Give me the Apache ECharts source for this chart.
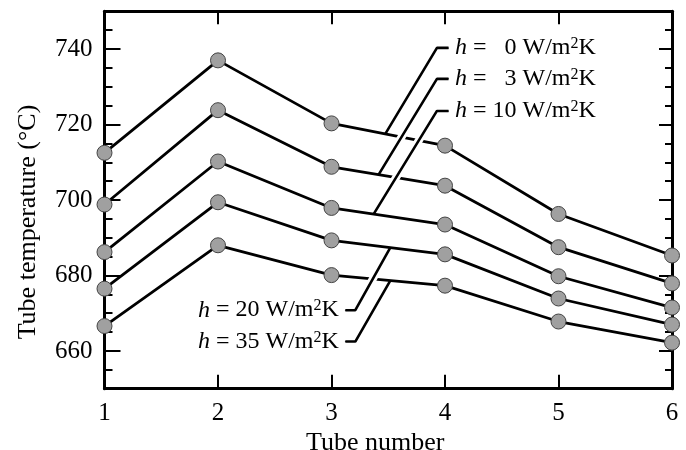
<!DOCTYPE html>
<html>
<head>
<meta charset="utf-8">
<script src="https://cdn.jsdelivr.net/npm/echarts@6/dist/echarts.min.js"></script>
<style>
html, body { margin: 0; padding: 0; background: #fff; }
#chart { width: 686px; height: 450px; }
</style>
</head>
<body>
<div id="chart"></div>
<script>
var tubes = [1, 2, 3, 4, 5, 6];
var h0 = [712.5, 737, 720.3, 714.4, 696.3, 685.3];
var h3 = [698.8, 723.8, 708.8, 703.8, 687.5, 677.9];
var h10 = [686.2, 710.2, 697.9, 693.5, 679.8, 671.5];
var h20 = [676.5, 699.4, 689.3, 685.6, 673.9, 667];
var h35 = [666.6, 688, 680.1, 677.3, 667.8, 662.2];
var hValues = ['0', '3', '10', '20', '35'];
var yLabels = [660, 680, 700, 720, 740];

// leader lines: x where it touches the curve, elbow, end of the short flat piece
var leaderHit = [3.474, 3.415, 3.371, 3.518, 3.518];
var leaderElbow = [[3.929, 740.3], [3.929, 732.1], [3.929, 723.6], [3.21, 670.8], [3.21, 662.5]];
var leaderEnd = [4.031, 4.031, 4.031, 3.122, 3.122];

var curves = [h0, h3, h10, h20, h35];
var font = "'Liberation Serif', 'DejaVu Serif', serif";

function valueAt(arr, x) {
    var i = Math.floor(x) - 1;
    var f = x - Math.floor(x);
    return arr[i] + (arr[i + 1] - arr[i]) * f;
}

function labelText(v) {
    var pad = v.length < 2 ? '  ' : '';
    return '{i|h}{t| = ' + pad + v + ' W/m}{s|2}{t|K}';
}

var series = [];

curves.forEach(function (arr, k) {
    series.push({
        name: 'h' + hValues[k],
        type: 'line',
        data: tubes.map(function (t, i) { return [t, arr[i]]; }),
        symbol: 'circle',
        symbolSize: 15,
        clip: false,
        z: 2,
        lineStyle: { color: '#000', width: 2.8 },
        itemStyle: { color: '#a0a0a0', borderColor: '#444', borderWidth: 1 },
        emphasis: { disabled: true }
    });
});

// white halo under leaders so they cut the curves they cross
curves.forEach(function (arr, k) {
    var hit = [leaderHit[k], valueAt(arr, leaderHit[k])];
    var el = leaderElbow[k];
    var t = 0.12;
    var start = [hit[0] + (el[0] - hit[0]) * t, hit[1] + (el[1] - hit[1]) * t];
    series.push({
        type: 'line',
        data: [start, el, [leaderEnd[k], el[1]]],
        symbol: 'none',
        clip: false,
        z: 3,
        lineStyle: { color: '#fff', width: 8 },
        emphasis: { disabled: true },
        silent: true
    });
});

curves.forEach(function (arr, k) {
    var hit = [leaderHit[k], valueAt(arr, leaderHit[k])];
    var el = leaderElbow[k];
    var right = k < 3;
    series.push({
        type: 'line',
        data: [hit, el, {
            value: [leaderEnd[k], el[1]],
            label: {
                show: true,
                position: right ? 'right' : 'left',
                distance: 6,
                formatter: labelText(hValues[k]),
                rich: {
                    i: { fontFamily: font, fontStyle: 'italic', fontSize: 24, color: '#000' },
                    t: { fontFamily: font, fontSize: 24, color: '#000' },
                    s: { fontFamily: font, fontSize: 16, color: '#000', verticalAlign: 'top' }
                }
            }
        }],
        symbol: 'circle',
        symbolSize: 1,
        clip: false,
        z: 4,
        itemStyle: { color: '#000' },
        lineStyle: { color: '#000', width: 2.6 },
        emphasis: { disabled: true },
        silent: true
    });
});

var frameLine = { show: true, lineStyle: { color: '#000', width: 3 } };
var tickStyle = { color: '#000', width: 2 };

var option = {
    animation: false,
    backgroundColor: '#fff',
    grid: { left: 104.5, right: 14, top: 11.3, bottom: 61.3, containLabel: false, outerBoundsMode: 'none' },
    xAxis: [{
        type: 'value',
        position: 'bottom',
        min: 1, max: 6, interval: 1,
        axisLine: frameLine,
        axisTick: { inside: true, length: 14, lineStyle: tickStyle },
        axisLabel: { fontFamily: font, fontSize: 25, color: '#000', margin: 12 },
        splitLine: { show: false },
        name: 'Tube number',
        nameLocation: 'middle',
        nameGap: 21,
        nameTextStyle: { fontFamily: font, fontSize: 26, color: '#000', padding: [0, 26, 0, 0] }
    }, {
        type: 'value',
        position: 'top',
        min: 1, max: 6, interval: 1,
        axisLine: frameLine,
        axisTick: { inside: true, length: 13, lineStyle: tickStyle },
        axisLabel: { show: false },
        splitLine: { show: false }
    }],
    yAxis: [{
        type: 'value',
        position: 'left',
        min: 650, max: 750, interval: 5,
        axisLine: frameLine,
        axisTick: { inside: true, length: 8, lineStyle: tickStyle },
        axisLabel: { fontFamily: font, fontSize: 25, color: '#000', margin: 12, customValues: yLabels },
        splitLine: { show: false },
        name: 'Tube temperature (\u00b0C)',
        nameLocation: 'middle',
        nameGap: 63,
        nameTextStyle: { fontFamily: font, fontSize: 26, color: '#000', padding: [0, 44, 0, 0] }
    }, {
        type: 'value',
        position: 'left',
        min: 650, max: 750, interval: 5,
        axisLine: { show: false },
        axisTick: { inside: true, length: 16, lineStyle: tickStyle, customValues: yLabels },
        axisLabel: { show: false },
        splitLine: { show: false }
    }, {
        type: 'value',
        position: 'right',
        min: 650, max: 750, interval: 5,
        axisLine: frameLine,
        axisTick: { inside: true, length: 7, lineStyle: tickStyle },
        axisLabel: { show: false },
        splitLine: { show: false }
    }, {
        type: 'value',
        position: 'right',
        min: 650, max: 750, interval: 5,
        axisLine: { show: false },
        axisTick: { inside: true, length: 13, lineStyle: tickStyle, customValues: yLabels },
        axisLabel: { show: false },
        splitLine: { show: false }
    }],
    series: series
};

var myChart = echarts.init(document.getElementById('chart'));
myChart.setOption(option);
</script>
</body>
</html>
